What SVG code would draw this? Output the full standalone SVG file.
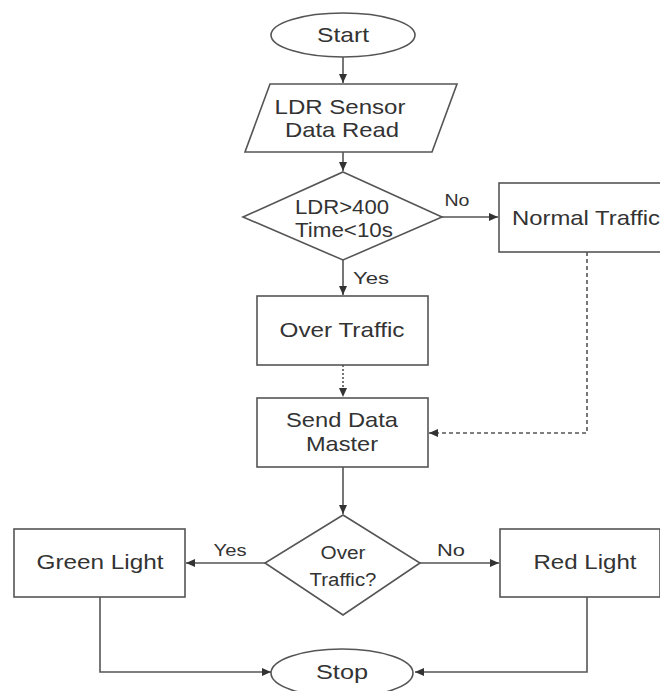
<svg xmlns="http://www.w3.org/2000/svg" width="660" height="691" viewBox="0 0 660 691">
<style>
.shape{fill:#fff;stroke:#555;stroke-width:1.6}
.t{font-family:"Liberation Sans",Arial,sans-serif;font-size:21px;fill:#333;text-anchor:middle}
.s{font-family:"Liberation Sans",Arial,sans-serif;font-size:17px;fill:#333;text-anchor:middle}
.c{fill:none;stroke:#555;stroke-width:1.6}
.dot{stroke-dasharray:2 2}
.dash{stroke-dasharray:4 3}
</style>
<defs>
<marker id="ah" markerUnits="userSpaceOnUse" markerWidth="10" markerHeight="10" refX="9" refY="5" orient="auto">
<path d="M0,1 L9,5 L0,9 Z" fill="#333"/>
</marker>
</defs>
<rect width="660" height="691" fill="#fff"/>
<g id="connectors">
<line class="c" x1="343" y1="57" x2="343" y2="83" marker-end="url(#ah)"/>
<line class="c" x1="343" y1="152" x2="343" y2="171" marker-end="url(#ah)"/>
<line class="c" x1="343" y1="260" x2="343" y2="295" marker-end="url(#ah)"/>
<line class="c" x1="442" y1="217" x2="498" y2="217" marker-end="url(#ah)"/>
<line class="c dot" x1="343" y1="365" x2="343" y2="397" marker-end="url(#ah)"/>
<polyline class="c dash" points="587,252 587,433 429,433" marker-end="url(#ah)"/>
<line class="c" x1="343" y1="467" x2="343" y2="514" marker-end="url(#ah)"/>
<line class="c" x1="265" y1="563" x2="186" y2="563" marker-end="url(#ah)"/>
<line class="c" x1="420" y1="563" x2="499" y2="563" marker-end="url(#ah)"/>
<polyline class="c" points="100,597 100,672 271,672" marker-end="url(#ah)"/>
<polyline class="c" points="587,597 587,672 415,672" marker-end="url(#ah)"/>
<text class="s" x="457" y="206" textLength="25" lengthAdjust="spacingAndGlyphs">No</text>
<text class="s" x="371" y="284" textLength="36" lengthAdjust="spacingAndGlyphs">Yes</text>
<text class="s" x="230" y="556" textLength="33" lengthAdjust="spacingAndGlyphs">Yes</text>
<text class="s" x="451" y="556" textLength="28" lengthAdjust="spacingAndGlyphs">No</text>
</g>
<g id="start">
<ellipse class="shape" cx="343" cy="35" rx="72" ry="22"/>
<text class="t" x="343" y="42" textLength="52" lengthAdjust="spacingAndGlyphs">Start</text>
</g>
<g id="ldr-read">
<polygon class="shape" points="270,84 457,84 432,152 245,152"/>
<text class="t" x="340" y="114" textLength="131" lengthAdjust="spacingAndGlyphs">LDR Sensor</text>
<text class="t" x="342" y="137" textLength="114" lengthAdjust="spacingAndGlyphs">Data Read</text>
</g>
<g id="decision1">
<polygon class="shape" points="343,172 442,217 343,260 243,217"/>
<text class="t" x="342" y="214" textLength="94" lengthAdjust="spacingAndGlyphs">LDR&gt;400</text>
<text class="t" x="344" y="237" textLength="98" lengthAdjust="spacingAndGlyphs">Time&lt;10s</text>
</g>
<g id="normal-traffic">
<rect class="shape" x="499" y="183" width="175" height="69"/>
<text class="t" x="512" y="225" style="text-anchor:start" textLength="148" lengthAdjust="spacingAndGlyphs">Normal Traffic</text>
</g>
<g id="over-traffic">
<rect class="shape" x="257" y="296" width="171" height="69"/>
<text class="t" x="342" y="337" textLength="125" lengthAdjust="spacingAndGlyphs">Over Traffic</text>
</g>
<g id="send-data">
<rect class="shape" x="257" y="398" width="171" height="69"/>
<text class="t" x="342" y="427" textLength="112" lengthAdjust="spacingAndGlyphs">Send Data</text>
<text class="t" x="342" y="451" textLength="72" lengthAdjust="spacingAndGlyphs">Master</text>
</g>
<g id="decision2">
<polygon class="shape" points="343,515 420,563 343,615 265,563"/>
<text class="s" x="343" y="559" style="font-size:18px" textLength="45" lengthAdjust="spacingAndGlyphs">Over</text>
<text class="s" x="343" y="586" style="font-size:18px" textLength="67" lengthAdjust="spacingAndGlyphs">Traffic?</text>
</g>
<g id="green-light">
<rect class="shape" x="14" y="529" width="171" height="68"/>
<text class="t" x="100" y="569" textLength="127" lengthAdjust="spacingAndGlyphs">Green Light</text>
</g>
<g id="red-light">
<rect class="shape" x="500" y="529" width="160" height="68"/>
<text class="t" x="585" y="569" textLength="103" lengthAdjust="spacingAndGlyphs">Red Light</text>
</g>
<g id="stop">
<ellipse class="shape" cx="342" cy="673" rx="71" ry="24"/>
<text class="t" x="342" y="679" textLength="52" lengthAdjust="spacingAndGlyphs">Stop</text>
</g>
</svg>
